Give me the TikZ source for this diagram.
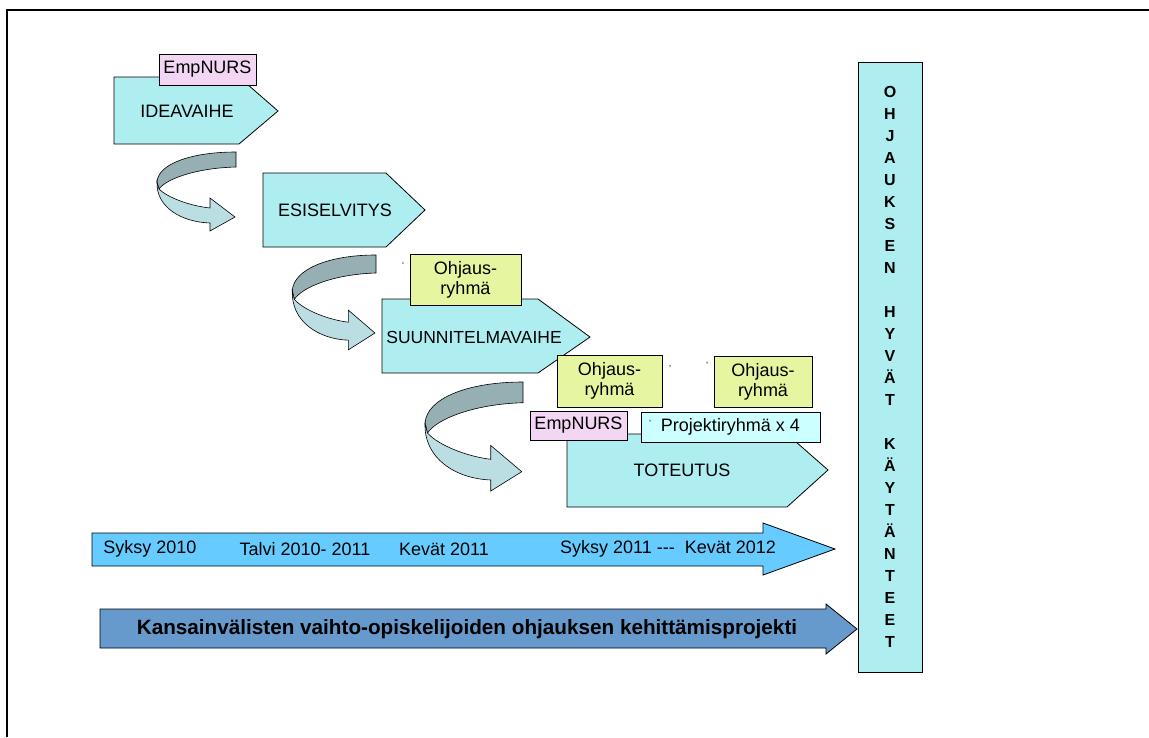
\documentclass[tikz,border=0pt]{standalone}
\usepackage{fontspec}
\setmainfont{Liberation Sans}

\definecolor{phasecyan}{RGB}{175,238,240}
\definecolor{empnurs}{RGB}{243,214,243}
\definecolor{ohjaus}{RGB}{230,246,160}
\definecolor{projcyan}{RGB}{204,255,255}
\definecolor{turndark}{RGB}{150,175,178}
\definecolor{turnlight}{RGB}{186,222,226}
\definecolor{timeblue}{RGB}{102,204,255}
\definecolor{projblue}{RGB}{102,153,204}

\begin{document}
\begin{tikzpicture}[x=1pt,y=-1pt,
  every node/.style={inner sep=0pt, outer sep=0pt},
  phase/.style={draw=black, fill=phasecyan, line width=0.8pt},
  phasetext/.style={font=\fontsize{18}{20}\selectfont},
  tagbox/.style={draw=black, line width=0.8pt, font=\fontsize{18}{20}\selectfont, align=center},
  straymark/.style={font=\fontsize{9}{9}\selectfont},
  pics/turn/.style={code={
    \path[draw, line width=0.6pt, fill=turndark] (0,0) .. controls (-45,0) and (-78,12) .. (-79,30)
      -- (-77,37) .. controls (-70,27) and (-40,16) .. (0,15) -- cycle;
    \path[draw, line width=0.6pt, fill=turnlight] (-79,30) .. controls (-80,55) and (-55,70) .. (-26,71)
      -- (-26,79) -- (-1,65) -- (-26,46) -- (-26,56) .. controls (-45,54) and (-68,46) .. (-77,37) -- cycle;
  }}]
\useasboundingbox (0,0) rectangle (1149,737);
\draw[line width=2pt] (7,737) -- (7,10) -- (1149,10);

% phases
\draw[phase] (114,77) -- (239,77) -- (278,111) -- (239,144) -- (114,144) -- cycle;
\node[phasetext] (idea) at (187,111) {IDEAVAIHE};
\node[tagbox, fill=empnurs, minimum width=97pt, minimum height=31pt] (emp1) at (207.5,69.5) {EmpNURS};

\draw[phase] (263,173) -- (386,173) -- (425,210) -- (386,247) -- (263,247) -- cycle;
\node[phasetext] (esi) at (335,210) {ESISELVITYS};

\draw[phase] (382,299) -- (538,299) -- (590,337) -- (538,373) -- (382,373) -- cycle;
\node[phasetext, font=\fontsize{17.5}{20}\selectfont] (suun) at (474,337) {SUUNNITELMAVAIHE};
\node[tagbox, fill=ohjaus, minimum width=111pt, minimum height=51pt] (ohj1) at (465.5,279.5) {Ohjaus-\\ryhmä};
\node[straymark] (m1) at (403,265) {`};

\draw[phase] (567,434) -- (787,434) -- (828,470) -- (787,507) -- (567,507) -- cycle;
\node[phasetext] (tot) at (682,470) {TOTEUTUS};
\node[tagbox, fill=ohjaus, minimum width=105pt, minimum height=52pt] (ohj2) at (609.5,381) {Ohjaus-\\ryhmä};
\node[tagbox, fill=ohjaus, minimum width=98pt, minimum height=51pt] (ohj3) at (763,381.5) {Ohjaus-\\ryhmä};
\node[straymark] (m2) at (670,367) {,};
\node[straymark] (m3) at (707,365) {'};
\node[tagbox, fill=empnurs, minimum width=97pt, minimum height=29pt] (emp2) at (578.5,425.5) {EmpNURS};
\node[tagbox, fill=projcyan, minimum width=179pt, minimum height=30pt] (proj) at (730.5,427) {};
\node[phasetext] (projtext) at (730.5,427) {Projektiryhmä x 4};
\node[straymark] (m4) at (650,423) {'};

% turns between phases
\pic at (236,152) {turn};
\pic[xscale=1.06, yscale=1.2] at (376,255) {turn};
\pic[xscale=1.24, yscale=1.38] at (523,382) {turn};

% time line
\draw[line width=0.8pt, fill=timeblue] (92,533) -- (763,533) -- (763,523) -- (835,549)
  -- (763,575) -- (763,566) -- (92,566) -- cycle;
\node[phasetext] (syksy10) at (150,549) {Syksy 2010};
\node[phasetext] (talvi) at (305,549) {Talvi 2010- 2011};
\node[phasetext] (kevat11) at (444,549) {Kevät 2011};
\node[phasetext] (syksy11) at (668,549) {Syksy 2011 -{}-{}-\ \ Kevät 2012};

% project
\draw[line width=0.8pt, fill=projblue] (100,609) -- (826,609) -- (826,604) -- (857,629)
  -- (826,654) -- (826,648) -- (100,648) -- cycle;
\node[font=\fontsize{20.7}{22}\selectfont\bfseries] (hanke) at (467,629) {Kansainvälisten vaihto-opiskelijoiden ohjauksen kehittämisprojekti};

% good practices column
\node[draw=black, line width=0.8pt, fill=phasecyan, minimum width=64pt, minimum height=610pt,
  font=\fontsize{16}{22}\selectfont\bfseries, align=center] (hyvat) at (890,367)
  {O\\H\\J\\A\\U\\K\\S\\E\\N\\[22pt]H\\Y\\V\\Ä\\T\\[22pt]K\\Ä\\Y\\T\\Ä\\N\\T\\E\\E\\T};
\end{tikzpicture}
\end{document}
